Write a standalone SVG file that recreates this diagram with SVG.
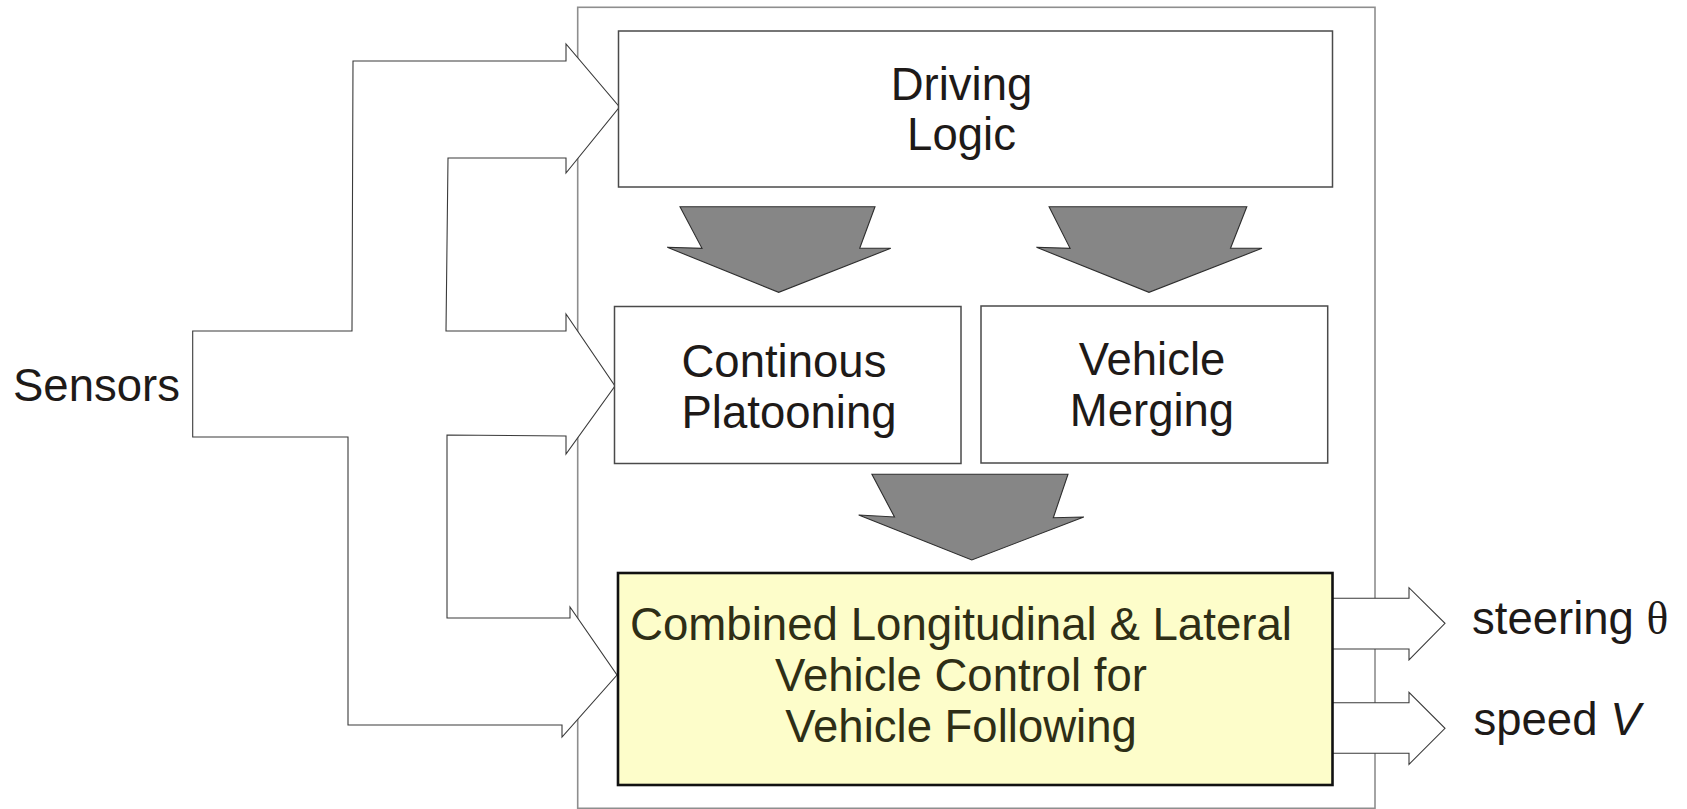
<svg xmlns="http://www.w3.org/2000/svg" width="1687" height="809" viewBox="0 0 1687 809">
  <style>
    .label { font-family: "Liberation Sans", Arial, sans-serif; font-size: 45.5px; fill: #1e1a18; }
    .mid { text-anchor: middle; }
    .box { fill: #ffffff; stroke: #4a4a4a; stroke-width: 1.5; }
    .frame { fill: none; stroke: #8e8e8e; stroke-width: 1.6; }
    .hollow { fill: #ffffff; stroke: #3a3a3a; stroke-width: 1.1; stroke-linejoin: miter; }
    .flow { fill: #868686; stroke: #2e2e2e; stroke-width: 1.1; }
    .control { fill: #fdfdca; stroke: #111111; stroke-width: 2.6; }
    .controlText { fill: #2e2e16; }
  </style>

  <!-- enclosing controller frame -->
  <rect id="controller-frame" class="frame" x="577.7" y="7.3" width="797.3" height="801"/>

  <!-- connectors -->
  <g id="connectors">
    <!-- sensor bus branching into three block arrows -->
    <polygon id="sensor-feed" class="hollow" points="192.7,331 352,331 353,61 566,61 566,44 619.5,107 566,173 566,158 448,158 446,331 566,331 566,314 615,386 566,454 566,436 447,435 447,618 570,618 570,607 617,675 562,737 562,725 348,725 348,437 192.7,437"/>
    <!-- downward flow arrows -->
    <polygon id="flow-to-platooning" class="flow" points="680,206.7 875,206.7 859.7,248.3 890.8,248.3 778.7,292.3 667.3,247.3 702,248.3"/>
    <polygon id="flow-to-merging" class="flow" points="1049.1,206.7 1246.8,206.7 1230.5,248.3 1262,248.3 1149,292.3 1036.5,247.3 1070.1,248.3"/>
    <polygon id="flow-to-control" class="flow" points="871.9,474.3 1068,474.3 1053.3,517.7 1083.8,517 971.8,560 858.7,515 894.5,517"/>
    <!-- outputs -->
    <path id="out-steering" class="hollow" d="M1333,598.3 H1409 V587.7 L1445,623.3 L1409,660 V649 H1333"/>
    <path id="out-speed" class="hollow" d="M1333,702.7 H1409 V692.3 L1445,728.3 L1409,764.3 V753.3 H1333"/>
  </g>

  <g id="sensors">
    <text class="label" x="13" y="400.7">Sensors</text>
  </g>

  <g id="driving-logic">
    <rect class="box" x="618.5" y="31" width="714" height="156"/>
    <text class="label mid" x="961.5" y="100">Driving</text>
    <text class="label mid" x="961.5" y="150">Logic</text>
  </g>

  <g id="continuous-platooning">
    <rect class="box" x="614.5" y="306.5" width="346.5" height="157"/>
    <text class="label" x="681.5" y="377.3">Continous</text>
    <text class="label" x="681.5" y="428.3">Platooning</text>
  </g>

  <g id="vehicle-merging">
    <rect class="box" x="981" y="306" width="346.7" height="157"/>
    <text class="label mid" x="1152" y="375">Vehicle</text>
    <text class="label mid" x="1152" y="426">Merging</text>
  </g>

  <g id="combined-control">
    <rect class="control" x="618" y="573" width="714.5" height="212"/>
    <text class="label mid controlText" x="961" y="640" textLength="662" lengthAdjust="spacingAndGlyphs">Combined Longitudinal &amp; Lateral</text>
    <text class="label mid controlText" x="961" y="690.7">Vehicle Control for</text>
    <text class="label mid controlText" x="961" y="741.7">Vehicle Following</text>
  </g>

  <g id="steering-output">
    <text class="label" x="1472" y="634">steering <tspan font-family="'Liberation Serif', 'Times New Roman', serif">θ</tspan></text>
  </g>

  <g id="speed-output">
    <text class="label" x="1473.5" y="735">speed <tspan font-style="italic">V</tspan></text>
  </g>
</svg>
